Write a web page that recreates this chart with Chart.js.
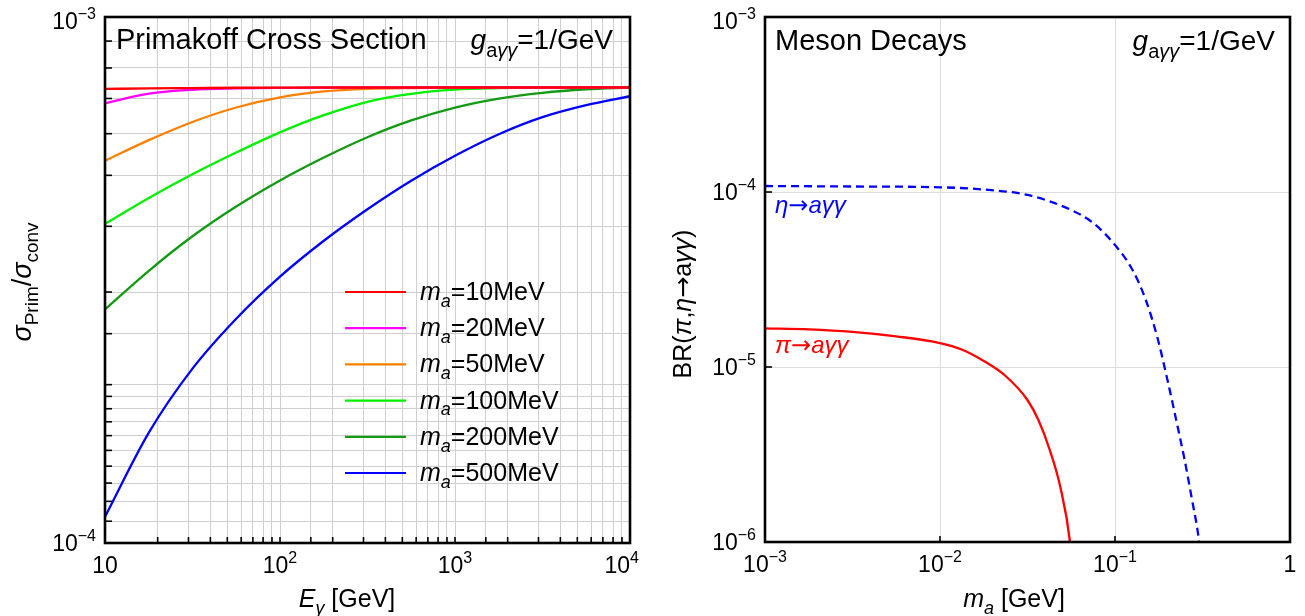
<!DOCTYPE html>
<html>
<head>
<meta charset="utf-8">
<script src="https://cdn.jsdelivr.net/npm/chart.js@4.4.0/dist/chart.umd.min.js"></script>
<style>
  html, body { margin: 0; padding: 0; background: #fff; }
  #wrap { position: relative; width: 1305px; height: 616px; }
  canvas { position: absolute; top: 0; }
  #left { left: 0; }
  #right { left: 652px; }
</style>
</head>
<body>
<div id="wrap">
  <canvas id="left" width="652" height="616"></canvas>
  <canvas id="right" width="653" height="616"></canvas>
</div>
<script>
// ---- left panel: sigma_Prim / sigma_conv vs photon energy (GeV) ----
var energies = [10, 17.8, 31.6, 56.2, 100, 178, 316, 562, 1000, 1780, 3160, 5620, 10000];
var massLabels = ['10MeV', '20MeV', '50MeV', '100MeV', '200MeV', '500MeV'];
var ratio10  = [7.300e-4, 7.314e-4, 7.325e-4, 7.336e-4, 7.342e-4, 7.345e-4, 7.345e-4, 7.345e-4, 7.345e-4, 7.345e-4, 7.345e-4, 7.345e-4, 7.345e-4];
var ratio20  = [6.854e-4, 7.148e-4, 7.272e-4, 7.314e-4, 7.333e-4, 7.342e-4, 7.345e-4, 7.345e-4, 7.345e-4, 7.345e-4, 7.345e-4, 7.345e-4, 7.345e-4];
var ratio50  = [5.331e-4, 5.833e-4, 6.316e-4, 6.729e-4, 7.036e-4, 7.218e-4, 7.300e-4, 7.328e-4, 7.339e-4, 7.342e-4, 7.345e-4, 7.345e-4, 7.345e-4];
var ratio100 = [4.042e-4, 4.528e-4, 5.024e-4, 5.525e-4, 6.036e-4, 6.506e-4, 6.900e-4, 7.145e-4, 7.278e-4, 7.322e-4, 7.339e-4, 7.345e-4, 7.345e-4];
var ratio200 = [2.781e-4, 3.292e-4, 3.829e-4, 4.362e-4, 4.889e-4, 5.405e-4, 5.908e-4, 6.359e-4, 6.727e-4, 6.997e-4, 7.177e-4, 7.288e-4, 7.345e-4];
var ratio500 = [1.122e-4, 1.621e-4, 2.145e-4, 2.669e-4, 3.209e-4, 3.755e-4, 4.311e-4, 4.884e-4, 5.447e-4, 5.985e-4, 6.449e-4, 6.797e-4, 7.070e-4];

// ---- right panel: meson decay branching ratios vs axion mass (GeV) ----
var pionMass = [0.001, 0.00178, 0.00316, 0.00562, 0.01, 0.0133, 0.0178, 0.0237, 0.0316, 0.0365, 0.0422, 0.0487, 0.0553, 0.057];
var pionBR   = [1.664e-5, 1.642e-5, 1.589e-5, 1.497e-5, 1.371e-5, 1.259e-5, 1.082e-5, 8.885e-6, 6.477e-6, 4.978e-6, 3.400e-6, 2.062e-6, 1.0e-6, 6.9e-7];
var etaMass  = [0.001, 0.00316, 0.01, 0.0178, 0.0316, 0.0562, 0.075, 0.1, 0.125, 0.15, 0.175, 0.2, 0.225, 0.25, 0.275, 0.3, 0.31];
var etaBR    = [1.082e-4, 1.075e-4, 1.064e-4, 1.033e-4, 9.614e-5, 7.89e-5, 6.65e-5, 4.98e-5, 3.631e-5, 2.415e-5, 1.464e-5, 8.318e-6, 4.849e-6, 2.941e-6, 1.761e-6, 1.068e-6, 7.89e-7];

var FONT = '"Liberation Sans", Arial, Helvetica, sans-serif';
var ARROW_FONT = '"DejaVu Sans", sans-serif';
var massColors = ['#ff0000', '#ff00ff', '#ff8000', '#00f000', '#129a12', '#0000ff'];

function pts(xs, ys) {
  return xs.map(function(x, i) { return { x: x, y: ys[i] }; });
}

function isMajor(v) {
  var l = Math.log10(v);
  return Math.abs(l - Math.round(l)) < 1e-6;
}

// measure / draw a run of text pieces: [text, style]; flags: i = italic, sub, sup, arr = arrow font
function richSegs(ctx, parts, size) {
  return parts.map(function(p) {
    var st = p[1] || '';
    var sub = st.indexOf('sub') >= 0, sup = st.indexOf('sup') >= 0;
    var fs = (sub || sup) ? Math.round(size * 0.7) : size;
    var fam = st.indexOf('arr') >= 0 ? ARROW_FONT : FONT;
    var font = (st.charAt(0) === 'i' ? 'italic ' : '') + fs + 'px ' + fam;
    ctx.font = font;
    var dy = sub ? size * 0.27 : (sup ? -size * 0.42 : 0);
    return { t: p[0], font: font, w: ctx.measureText(p[0]).width, dy: dy };
  });
}

function richWidth(ctx, parts, size) {
  return richSegs(ctx, parts, size).reduce(function(s, g) { return s + g.w; }, 0);
}

function drawRich(ctx, parts, x, y, size, align, color) {
  var segs = richSegs(ctx, parts, size);
  var total = segs.reduce(function(s, g) { return s + g.w; }, 0);
  var cx = align === 'center' ? x - total / 2 : (align === 'right' ? x - total : x);
  ctx.fillStyle = color || '#000';
  ctx.textAlign = 'left';
  ctx.textBaseline = 'alphabetic';
  segs.forEach(function(g) {
    ctx.font = g.font;
    ctx.fillText(g.t, cx, y + g.dy);
    cx += g.w;
  });
  return total;
}

function powLabel(v) {
  var e = Math.round(Math.log10(v));
  if (e === 0) return [['1', '']];
  if (e === 1) return [['10', '']];
  return [['10', ''], [(e < 0 ? '\u2212' : '') + Math.abs(e), 'sup']];
}

// frame, inward ticks, tick labels, titles, notes and legend
function decorPlugin(cfg) {
  return {
    id: 'decor',
    afterDraw: function(chart) {
      var ctx = chart.ctx, a = chart.chartArea;
      var xs = chart.scales.x, ys = chart.scales.y;
      ctx.save();
      ctx.strokeStyle = '#000';
      ctx.lineWidth = 1.6;
      xs.ticks.forEach(function(t) {
        if (!cfg.minorTicks && !isMajor(t.value)) return;
        var px = xs.getPixelForValue(t.value);
        ctx.beginPath(); ctx.moveTo(px, a.bottom); ctx.lineTo(px, a.bottom - 6); ctx.stroke();
      });
      ys.ticks.forEach(function(t) {
        if (!cfg.minorTicks && !isMajor(t.value)) return;
        var py = ys.getPixelForValue(t.value);
        ctx.beginPath(); ctx.moveTo(a.left, py); ctx.lineTo(a.left + 7, py); ctx.stroke();
      });
      ctx.lineWidth = 2.6;
      ctx.strokeRect(a.left, a.top, a.right - a.left, a.bottom - a.top);

      // tick labels
      xs.ticks.forEach(function(t) {
        if (!isMajor(t.value)) return;
        var lbl = powLabel(t.value);
        var w = richWidth(ctx, lbl, 23);
        var px = Math.min(xs.getPixelForValue(t.value), cfg.xLabelMaxRight - w / 2);
        drawRich(ctx, lbl, px, a.bottom + 30, 23, 'center');
      });
      ys.ticks.forEach(function(t) {
        if (!isMajor(t.value)) return;
        var py = Math.max(ys.getPixelForValue(t.value), a.top + 4);
        drawRich(ctx, powLabel(t.value), a.left - 9, py + 8, 23, 'right');
      });

      // axis titles
      drawRich(ctx, cfg.xTitle, cfg.xTitlePos[0], cfg.xTitlePos[1], 25, 'center');
      ctx.save();
      ctx.translate(cfg.yTitlePos[0], cfg.yTitlePos[1]);
      ctx.rotate(-Math.PI / 2);
      drawRich(ctx, cfg.yTitle, 0, 0, cfg.yTitleSize, 'center');
      ctx.restore();

      cfg.notes.forEach(function(n) {
        drawRich(ctx, n.parts, n.x, n.y, n.size, n.align, n.color);
      });

      if (cfg.legend) {
        chart.data.datasets.forEach(function(ds, i) {
          var y = 292 + 36.2 * i;
          ctx.strokeStyle = ds.borderColor;
          ctx.lineWidth = 2.2;
          ctx.beginPath(); ctx.moveTo(345, y); ctx.lineTo(406, y); ctx.stroke();
          drawRich(ctx, [['m', 'i'], ['a', 'isub'], ['=' + ds.label, '']], 420, y + 8, 25, 'left');
        });
      }
      ctx.restore();
    }
  };
}

function logAxis(min, max, majorGridOnly) {
  return {
    type: 'logarithmic',
    min: min,
    max: max,
    afterFit: function(s) { if (s.isHorizontal()) s.height = 0; else s.width = 0; },
    ticks: { display: false, autoSkip: false },
    border: { display: false },
    grid: {
      drawTicks: false,
      lineWidth: 1,
      color: function(c) {
        if (!c.tick) return '#d2d2d2';
        if (majorGridOnly && !isMajor(c.tick.value)) return 'rgba(0,0,0,0)';
        return majorGridOnly ? '#dcdcdc' : '#cfcfcf';
      }
    }
  };
}

var ratioSets = [ratio10, ratio20, ratio50, ratio100, ratio200, ratio500];

new Chart(document.getElementById('left').getContext('2d'), {
  type: 'line',
  data: {
    datasets: ratioSets.map(function(r, i) {
      return {
        label: massLabels[i],
        data: pts(energies, r),
        borderColor: massColors[i],
        borderWidth: 2.3,
        pointRadius: 0,
        fill: false,
        cubicInterpolationMode: 'monotone'
      };
    })
  },
  options: {
    responsive: false,
    animation: false,
    layout: { padding: { left: 105, right: 22, top: 17, bottom: 73 } },
    plugins: { legend: { display: false }, tooltip: { enabled: false } },
    scales: {
      x: logAxis(10, 10000, false),
      y: logAxis(1e-4, 1e-3, false)
    }
  },
  plugins: [decorPlugin({
    minorTicks: true,
    legend: true,
    xLabelMaxRight: 639,
    xTitle: [['E', 'i'], ['\u03b3', 'isub'], [' [GeV]', '']],
    xTitlePos: [347, 607],
    yTitle: [['\u03c3', 'i'], ['Prim', 'sub'], ['/', ''], ['\u03c3', 'i'], ['conv', 'sub']],
    yTitleSize: 27,
    yTitlePos: [31, 282],
    notes: [
      { parts: [['Primakoff Cross Section', '']], x: 116, y: 49, size: 29, align: 'left' },
      { parts: [['g', 'i'], ['a', 'sub'], ['\u03b3\u03b3', 'isub'], ['=1/GeV', '']], x: 613, y: 49, size: 28, align: 'right' }
    ]
  })]
});

new Chart(document.getElementById('right').getContext('2d'), {
  type: 'line',
  data: {
    datasets: [
      {
        label: 'eta',
        data: pts(etaMass, etaBR),
        borderColor: '#0000ff',
        borderWidth: 2.3,
        borderDash: [8, 5],
        pointRadius: 0,
        fill: false,
        cubicInterpolationMode: 'monotone'
      },
      {
        label: 'pi',
        data: pts(pionMass, pionBR),
        borderColor: '#ff0000',
        borderWidth: 2.3,
        pointRadius: 0,
        fill: false,
        cubicInterpolationMode: 'monotone'
      }
    ]
  },
  options: {
    responsive: false,
    animation: false,
    layout: { padding: { left: 113, right: 15, top: 17, bottom: 74 } },
    plugins: { legend: { display: false }, tooltip: { enabled: false } },
    scales: {
      x: logAxis(1e-3, 1, true),
      y: logAxis(1e-6, 1e-3, true)
    }
  },
  plugins: [decorPlugin({
    minorTicks: false,
    legend: false,
    xLabelMaxRight: 650,
    xTitle: [['m', 'i'], ['a', 'isub'], [' [GeV]', '']],
    xTitlePos: [362, 607],
    yTitle: [['BR(', ''], ['\u03c0', 'i'], [',', ''], ['\u03b7', 'i'], ['\u2192', 'arr'], ['a', ''], ['\u03b3\u03b3', 'i'], [')', '']],
    yTitleSize: 25,
    yTitlePos: [39, 304],
    notes: [
      { parts: [['Meson Decays', '']], x: 123, y: 50, size: 29, align: 'left' },
      { parts: [['g', 'i'], ['a', 'sub'], ['\u03b3\u03b3', 'isub'], ['=1/GeV', '']], x: 623, y: 50, size: 28, align: 'right' },
      { parts: [['\u03b7', 'i'], ['\u2192', 'iarr'], ['a\u03b3\u03b3', 'i']], x: 123, y: 213, size: 24, align: 'left', color: '#0000ff' },
      { parts: [['\u03c0', 'i'], ['\u2192', 'iarr'], ['a\u03b3\u03b3', 'i']], x: 123, y: 353, size: 24, align: 'left', color: '#ff0000' }
    ]
  })]
});
</script>
</body>
</html>
